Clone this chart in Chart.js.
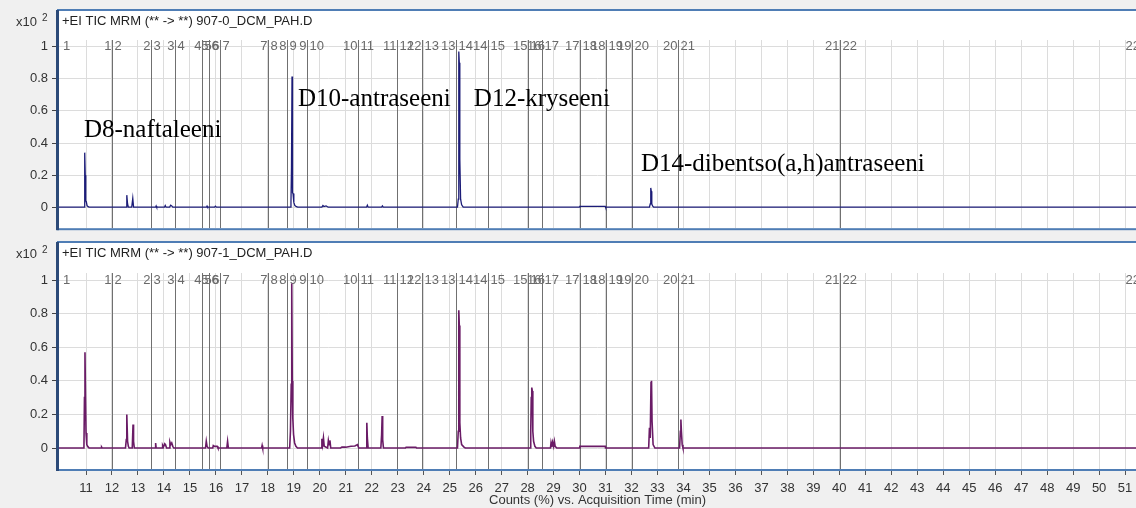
<!DOCTYPE html>
<html>
<head>
<meta charset="utf-8">
<script src="https://cdn.jsdelivr.net/npm/chart.js@4"></script>
<style>
  body { margin: 0; background: #f0f0f0; width: 1136px; height: 508px; overflow: hidden; }
  canvas { position: absolute; left: 0; }
  #topChart { top: 0; }
  #bottomChart { top: 240px; }
</style>
</head>
<body>
<canvas id="topChart" width="1136" height="240"></canvas>
<canvas id="bottomChart" width="1136" height="268"></canvas>
<script>
// x axis (minutes) and y axis (x10^2 counts, %)
var xTicks = [11,12,13,14,15,16,17,18,19,20,21,22,23,24,25,26,27,28,29,30,31,32,33,34,35,36,37,38,39,40,41,42,43,44,45,46,47,48,49,50,51];
var yTicks = [0, 0.2, 0.4, 0.6, 0.8, 1];

// MRM segment boundaries (min)
var segTimes = [12.0, 13.52, 14.43, 15.45, 15.73, 16.15, 17.99, 18.73, 19.5, 21.47, 22.99, 23.95, 25.26, 26.49, 28.0, 28.57, 30.0, 31.0, 32.03, 33.8, 40.03];

// 907-0_DCM_PAH.D
var topTime = [9.96, 10.93, 10.95, 10.97, 10.99, 11.01, 11.04, 11.08, 11.12,
  12.54, 12.57, 12.6, 12.63, 12.76, 12.8, 12.83,
  13.68, 13.7, 13.72, 14.02, 14.05, 14.08, 14.22, 14.26, 14.3, 14.34,
  15.64, 15.66, 15.68, 15.95, 15.98, 16.02,
  18.86, 18.89, 18.91, 18.93, 18.95, 18.97, 19.0, 19.04, 19.1, 19.15,
  20.08, 20.12, 20.16, 20.24, 20.28, 20.32,
  21.8, 21.83, 21.86, 22.38, 22.41, 22.44,
  25.3, 25.33, 25.35, 25.37, 25.39, 25.42, 25.46, 25.52,
  30.0, 30.01, 30.99, 31.0,
  32.69, 32.72, 32.74, 32.76, 32.78, 32.81, 32.85,
  51.42];
var topCounts = [0, 0, 0.34, 0.2, 0.04, 0.035, 0.01, 0.003, 0,
  0, 0.075, 0.02, 0, 0, 0.055, 0,
  0, 0.008, 0, 0, 0.01, 0, 0, 0.012, 0.008, 0,
  0, 0.006, 0, 0, 0.006, 0,
  0, 0.03, 0.25, 0.815, 0.09, 0.085, 0.03, 0.01, 0.003, 0,
  0, 0.01, 0.004, 0.008, 0.004, 0,
  0, 0.012, 0, 0, 0.008, 0,
  0, 0.05, 0.97, 0.9, 0.3, 0.05, 0.015, 0,
  0, 0.005, 0.005, 0,
  0, 0.02, 0.12, 0.1, 0.02, 0.008, 0,
  0];

// 907-1_DCM_PAH.D
var botTime = [9.96, 10.92, 10.94, 10.96, 10.98, 11.0, 11.03, 11.07, 11.12,
  11.58, 11.6, 11.62,
  12.52, 12.55, 12.57, 12.6, 12.63, 12.66, 12.78, 12.81, 12.83, 12.86,
  13.66, 13.68, 13.7,
  13.93, 13.95, 13.98, 14.03, 14.06, 14.1, 14.2, 14.23, 14.26, 14.3, 14.34, 14.38,
  15.6, 15.63, 15.66, 15.7, 15.88, 15.9, 15.95, 16.05, 16.08,
  16.42, 16.45, 16.48, 17.76, 17.78, 17.8,
  18.84, 18.87, 18.9, 18.92, 18.94, 18.96, 18.99, 19.03, 19.08, 19.14,
  20.05, 20.08, 20.11, 20.14, 20.17, 20.3, 20.33, 20.36, 20.39, 20.42,
  20.8, 20.85, 21.0, 21.2, 21.35, 21.45, 21.5,
  21.78, 21.81, 21.83, 21.86, 22.35, 22.38, 22.4, 22.42, 22.45,
  23.3, 23.32, 23.5, 23.7, 23.72,
  25.3, 25.33, 25.35, 25.37, 25.39, 25.42, 25.46, 25.55, 25.6,
  28.1, 28.12, 28.14, 28.16, 28.18, 28.2, 28.23, 28.28, 28.33,
  28.88, 28.9, 28.93, 28.96, 29.0, 29.03, 29.06, 29.12,
  30.0, 30.01, 30.99, 31.0,
  32.66, 32.69, 32.72, 32.75, 32.77, 32.79, 32.83, 32.9,
  33.85, 33.88, 33.9, 33.92, 33.95, 33.98,
  51.42];
var botCounts = [0, 0, 0.3, 0.57, 0.31, 0.09, 0.02, 0.008, 0,
  0, 0.005, 0,
  0, 0.05, 0.2, 0.04, 0.01, 0, 0, 0.14, 0.04, 0,
  0, 0.03, 0,
  0, 0.015, 0.005, 0.025, 0.02, 0, 0, 0.035, 0.02, 0.03, 0.01, 0,
  0, 0.04, 0.01, 0, 0, 0.015, 0.01, 0.01, 0,
  0, 0.04, 0, 0, 0.015, 0,
  0, 0.1, 0.38, 0.98, 0.4, 0.18, 0.08, 0.03, 0.01, 0,
  0, 0.055, 0.02, 0.06, 0.01, 0, 0.045, 0.02, 0.045, 0,
  0, 0.005, 0.005, 0.01, 0.012, 0.02, 0,
  0, 0.15, 0.06, 0, 0, 0.08, 0.19, 0.05, 0,
  0, 0.004, 0.004, 0.004, 0,
  0, 0.1, 0.82, 0.73, 0.15, 0.06, 0.02, 0.005, 0,
  0, 0.1, 0.3, 0.36, 0.34, 0.1, 0.04, 0.01, 0,
  0, 0.03, 0.005, 0.035, 0.01, 0.04, 0.01, 0,
  0, 0.01, 0.01, 0,
  0, 0.12, 0.06, 0.39, 0.4, 0.16, 0.02, 0,
  0, 0.1, 0.17, 0.1, 0.02, 0,
  0];

// compound labels in the upper panel (time, level)
var annoText = ["D8-naftaleeni", "D10-antraseeni", "D12-kryseeni", "D14-dibentso(a,h)antraseeni"];
var annoTime = [10.92, 19.16, 25.93, 32.36];
var annoLevel = [0.476, 0.67, 0.67, 0.268];

var sans = '"Liberation Sans", Arial, sans-serif';

function toPoints(xs, ys) {
    var pts = [];
    for (let i = 0; i < xs.length; i++) {
        pts.push({x: xs[i], y: ys[i]});
    }
    return pts;
}

var panelPlugin = {
    id: 'panel',
    beforeDraw: function(chart, args, opts) {
        var ctx = chart.ctx;
        var a = chart.chartArea;
        ctx.save();
        ctx.fillStyle = '#ffffff';
        ctx.fillRect(58, opts.frameTop, chart.width - 58, a.bottom - opts.frameTop + 1);
        ctx.restore();
    },
    beforeDatasetsDraw: function(chart) {
        var ctx = chart.ctx;
        var a = chart.chartArea;
        var xs = chart.scales.x;
        var yTop = chart.scales.y.getPixelForValue(1);
        ctx.save();
        ctx.strokeStyle = '#707070';
        ctx.lineWidth = 1;
        ctx.font = '13px ' + sans;
        ctx.fillStyle = '#6a6a6a';
        ctx.textBaseline = 'middle';
        ctx.textAlign = 'left';
        ctx.fillText('1', a.left + 4, yTop);
        for (let i = 0; i < segTimes.length; i++) {
            var px = Math.round(xs.getPixelForValue(segTimes[i])) + 0.5;
            ctx.beginPath();
            ctx.moveTo(px, a.top);
            ctx.lineTo(px, a.bottom);
            ctx.stroke();
            ctx.textAlign = 'right';
            ctx.fillText(String(i + 1), px - 1, yTop);
            ctx.textAlign = 'left';
            ctx.fillText(String(i + 2), px + 2, yTop);
        }
        // segment 22 ends just past the visible range
        ctx.textAlign = 'right';
        ctx.fillText('22', a.right + 4, yTop);
        ctx.restore();
    },
    afterDraw: function(chart, args, opts) {
        var ctx = chart.ctx;
        var a = chart.chartArea;
        var top = opts.frameTop;
        ctx.save();
        ctx.strokeStyle = '#4f7db5';
        ctx.lineWidth = 2;
        ctx.strokeRect(58, top, chart.width, a.bottom - top + 1);
        ctx.fillStyle = '#2c4a78';
        ctx.fillRect(56, top, 3, a.bottom - top + 2);
        ctx.fillStyle = '#222';
        ctx.font = '13px ' + sans;
        ctx.textBaseline = 'middle';
        ctx.textAlign = 'left';
        ctx.fillText(opts.title, 62, top + 11);
        ctx.fillStyle = '#333';
        ctx.fillText('x10', 16, top + 12);
        ctx.font = '10px ' + sans;
        ctx.fillText('2', 42, top + 8);
        if (opts.notes) {
            ctx.fillStyle = '#000';
            ctx.font = '25px "Liberation Serif", "Times New Roman", serif';
            for (let i = 0; i < annoText.length; i++) {
                ctx.fillText(annoText[i], chart.scales.x.getPixelForValue(annoTime[i]), chart.scales.y.getPixelForValue(annoLevel[i]));
            }
        }
        ctx.restore();
    }
};

function makeChart(id, pts, color, width, opts) {
    var bottomAxis = opts.bottomAxis;
    var config = {
        type: 'line',
        data: {
            datasets: [{
                data: pts,
                borderColor: color,
                borderWidth: width,
                pointRadius: 0,
                tension: 0,
                fill: false
            }]
        },
        options: {
            responsive: false,
            animation: false,
            layout: { padding: { top: opts.padTop, right: 0, left: 0, bottom: 0 } },
            plugins: {
                legend: { display: false },
                tooltip: { enabled: false },
                panel: opts
            },
            scales: {
                x: {
                    type: 'linear',
                    min: 9.96,
                    max: 51.42,
                    afterBuildTicks: function(s) { s.ticks = xTicks.map(function(v) { return {value: v}; }); },
                    afterFit: function(s) {
                        s.height = bottomAxis ? 39 : 3;
                        s.paddingLeft = 0;
                        s.paddingRight = 0;
                    },
                    grid: { color: '#dcdcdc', drawTicks: bottomAxis, tickLength: 6, tickColor: '#555' },
                    border: { display: false },
                    ticks: {
                        display: bottomAxis,
                        autoSkip: false,
                        maxRotation: 0,
                        padding: 6,
                        color: '#333',
                        font: { size: 13, family: sans }
                    },
                    title: {
                        display: bottomAxis,
                        text: 'Counts (%) vs. Acquisition Time (min)',
                        color: '#333',
                        font: { size: 13, family: sans },
                        padding: { top: 0, bottom: 0 }
                    }
                },
                y: {
                    min: opts.yMin,
                    max: 1.042,
                    afterBuildTicks: function(s) { s.ticks = yTicks.map(function(v) { return {value: v}; }); },
                    afterFit: function(s) { s.width = 59; },
                    grid: { color: '#dcdcdc', tickLength: 7, tickColor: '#444' },
                    border: { display: false },
                    ticks: {
                        padding: 4,
                        color: '#333',
                        font: { size: 13, family: sans },
                        callback: function(v) { return String(v); }
                    }
                }
            }
        },
        plugins: [panelPlugin]
    };
    return new Chart(document.getElementById(id), config);
}

makeChart('topChart', toPoints(topTime, topCounts), '#1c1c78', 1.3, {
    title: '+EI TIC MRM (** -> **) 907-0_DCM_PAH.D',
    frameTop: 10, padTop: 40, yMin: -0.131, bottomAxis: false, notes: true
});
makeChart('bottomChart', toPoints(botTime, botCounts), '#6a1b66', 1.6, {
    title: '+EI TIC MRM (** -> **) 907-1_DCM_PAH.D',
    frameTop: 2, padTop: 33, yMin: -0.125, bottomAxis: true, notes: false
});
</script>
</body>
</html>
